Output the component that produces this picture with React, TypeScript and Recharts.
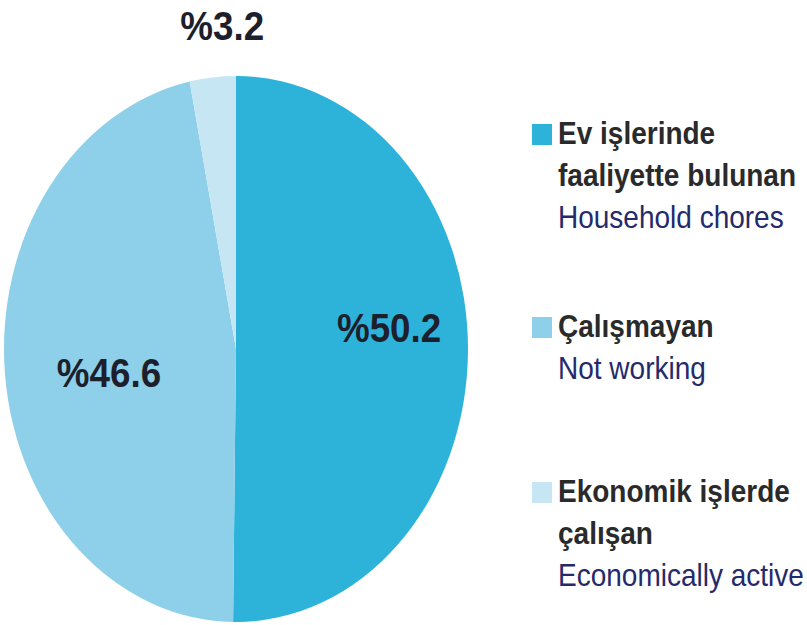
import { PieChart, Pie, Cell, Legend } from 'recharts';

const labelsTr = ['Ev işlerinde\nfaaliyette bulunan', 'Çalışmayan', 'Ekonomik işlerde\nçalışan'];
const labelsEn = ['Household chores', 'Not working', 'Economically active'];
const shares = [50.2, 46.6, 3.2];
const valueLabels = ['%50.2', '%46.6', '%3.2'];

const COLORS = ['#2db3d9', '#8ed0ea', '#c6e6f4'];

const CX = 236;
const CY = 349;
const RX = 232;
const RY = 273;
const SCALE_Y = RY / RX;
const RAD = Math.PI / 180;

// label distance from centre (fraction of radius) and small nudges
const LABEL_POS = [
  { f: 0.66, dx: 0, dy: -22 },
  { f: 0.55, dx: 0, dy: 10 },
  { f: 1.19, dx: 14, dy: 0 },
];

const data = shares.map((v, i) => ({
  name: labelsEn[i],
  tr: labelsTr[i],
  value: v,
}));

const FONT = '"Liberation Sans Narrow", "Liberation Sans", Arial, sans-serif';

function renderLabel(props: any) {
  const { cx, cy, midAngle, outerRadius, index } = props;
  const p = LABEL_POS[index];
  const x = cx + outerRadius * p.f * Math.cos(-midAngle * RAD) + p.dx;
  const y = cy + outerRadius * SCALE_Y * p.f * Math.sin(-midAngle * RAD) + p.dy;
  return (
    <text
      x={x}
      y={y}
      textAnchor="middle"
      dominantBaseline="central"
      fill="#1d1f2c"
      fontFamily={FONT}
      fontWeight="bold"
      fontSize={40}
      transform={`translate(${x} ${y}) scale(0.92 1) translate(${-x} ${-y})`}
    >
      {valueLabels[index]}
    </text>
  );
}

const LEGEND_TOPS = [112, 305, 470];

function LegendContent() {
  return (
    <div style={{ position: 'relative', width: 280, height: 625, fontFamily: FONT }}>
      {data.map((d, i) => (
        <div key={i} style={{ position: 'absolute', left: 0, top: LEGEND_TOPS[i] }}>
          <div
            style={{
              position: 'absolute',
              left: 0,
              top: 12,
              width: 20,
              height: 21,
              background: COLORS[i],
            }}
          />
          <div
            style={{
              marginLeft: 26,
              fontSize: 32,
              lineHeight: '42px',
              whiteSpace: 'nowrap',
              transform: 'scaleX(0.875)',
              transformOrigin: 'left top',
            }}
          >
            {d.tr.split('\n').map((t, k) => (
              <div key={k} style={{ color: '#2a2a2a', fontWeight: 'bold' }}>
                {t}
              </div>
            ))}
            <div style={{ color: '#252a6a' }}>{d.name}</div>
          </div>
        </div>
      ))}
    </div>
  );
}

export default function App() {
  return (
    <div style={{ position: 'absolute', left: 0, top: 0, background: '#fff' }}>
      <style>{`
        .recharts-pie-sector .recharts-sector {
          transform-box: view-box;
          transform-origin: ${CX}px ${CY}px;
          transform: scaleY(${SCALE_Y});
        }
      `}</style>
      <PieChart width={807} height={625} margin={{ top: 0, right: 0, bottom: 0, left: 0 }}>
        <Pie
          data={data}
          dataKey="value"
          nameKey="name"
          cx={CX}
          cy={CY}
          outerRadius={RX}
          startAngle={90}
          endAngle={-270}
          stroke="none"
          label={renderLabel}
          labelLine={false}
          isAnimationActive={false}
        >
          {data.map((_, i) => (
            <Cell key={i} fill={COLORS[i]} />
          ))}
        </Pie>
        <Legend
          layout="vertical"
          content={<LegendContent />}
          wrapperStyle={{ left: 532, top: 0, width: 280, height: 625 }}
        />
      </PieChart>
    </div>
  );
}
